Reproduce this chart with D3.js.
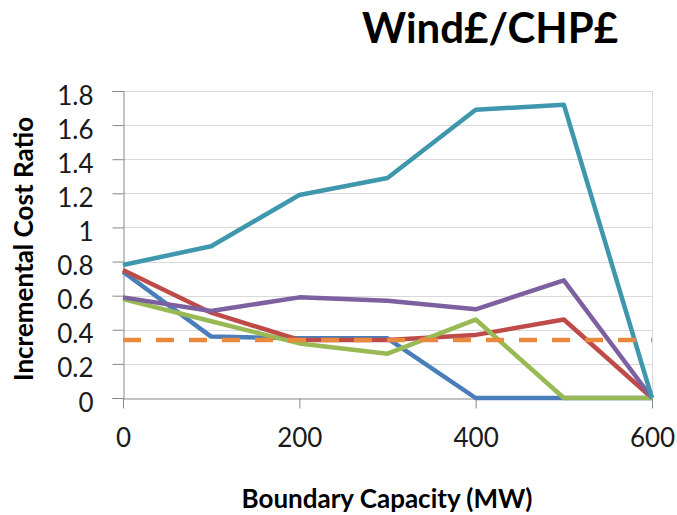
<!DOCTYPE html>
<html>
<head>
<meta charset="utf-8">
<script src="https://cdn.jsdelivr.net/npm/d3@7"></script>
<style>
  body { margin: 0; background: #fff; }
  text { font-family: Lato, "Open Sans", sans-serif; fill: #000; }
</style>
</head>
<body>
<svg id="chart" width="677" height="515"></svg>
<script>
const capacities = [0, 100, 200, 300, 400, 500, 600];

const blueSeries = [0.74, 0.36, 0.35, 0.35, 0, 0, 0];
const redSeries = [0.75, 0.50, 0.34, 0.34, 0.37, 0.46, 0];
const greenSeries = [0.58, 0.45, 0.32, 0.26, 0.46, 0, 0];
const purpleSeries = [0.59, 0.51, 0.59, 0.57, 0.52, 0.69, 0];
const tealSeries = [0.78, 0.89, 1.19, 1.29, 1.69, 1.72, 0];
const thresholdSeries = [0.34, 0.34, 0.34, 0.34, 0.34, 0.34, 0.34];

const xTicks = [0, 200, 400, 600];
const yTicks = [0, 0.2, 0.4, 0.6, 0.8, 1, 1.2, 1.4, 1.6, 1.8];

const series = [
  { values: blueSeries, color: "#4a7ebb" },
  { values: redSeries, color: "#be4b48" },
  { values: greenSeries, color: "#98b954" },
  { values: purpleSeries, color: "#7d60a0" },
  { values: tealSeries, color: "#3f97ae" },
  { values: thresholdSeries, color: "#e8893e", dash: "18,15" }
];

const margin = { top: 91, right: 25, bottom: 117, left: 123 };
const width = 677, height = 515;

const svg = d3.select("#chart");

const xScale = d3.scaleLinear()
  .domain([0, 600])
  .range([margin.left, width - margin.right]);

const yScale = d3.scaleLinear()
  .domain([0, 1.8])
  .range([height - margin.bottom, margin.top]);

// gridlines
svg.append("g")
  .selectAll("line")
  .data(yTicks.filter((d) => d > 0))
  .enter()
  .append("line")
  .attr("x1", xScale(0))
  .attr("x2", xScale(600))
  .attr("y1", (d) => Math.round(yScale(d)) + 0.5)
  .attr("y2", (d) => Math.round(yScale(d)) + 0.5)
  .attr("stroke", "#d9d9d9");

svg.append("line")
  .attr("x1", Math.round(xScale(600)) + 0.5)
  .attr("x2", Math.round(xScale(600)) + 0.5)
  .attr("y1", yScale(1.8))
  .attr("y2", yScale(0))
  .attr("stroke", "#d9d9d9");

// axes
const yAxis = d3.axisLeft(yScale)
  .tickValues(yTicks)
  .tickSize(11)
  .tickPadding(19)
  .tickFormat((d) => d3.format("")(+d.toFixed(1)));

const yAxisG = svg.append("g")
  .attr("transform", `translate(${Math.round(xScale(0)) + 0.5},0)`)
  .call(yAxis);

yAxisG.select(".domain").attr("stroke", "#868686");
yAxisG.selectAll(".tick line").attr("stroke", "#868686");
yAxisG.selectAll(".tick text")
  .attr("dy", "0.5em")
  .style("font-size", "26px")
  .style("fill", "#1a1a1a");

const xAxis = d3.axisBottom(xScale)
  .tickValues(xTicks)
  .tickSize(10)
  .tickPadding(20)
  .tickSizeOuter(0);

const xAxisG = svg.append("g")
  .attr("transform", `translate(0,${Math.round(yScale(0)) + 0.5})`)
  .call(xAxis);

xAxisG.select(".domain").attr("stroke", "#868686");
xAxisG.selectAll(".tick line").attr("stroke", "#868686");
xAxisG.selectAll(".tick text")
  .attr("dy", "0.71em")
  .style("font-size", "26px")
  .style("fill", "#1a1a1a");

// lines
const line = d3.line()
  .x((d, i) => xScale(capacities[i]))
  .y((d) => yScale(d));

svg.append("g")
  .selectAll("path")
  .data(series)
  .enter()
  .append("path")
  .attr("d", (s) => line(s.values))
  .attr("fill", "none")
  .attr("stroke", (s) => s.color)
  .attr("stroke-width", 4.5)
  .attr("stroke-linejoin", "round")
  .attr("stroke-dasharray", (s) => s.dash || null);

// titles
svg.append("text")
  .text("Wind£/CHP£")
  .attr("x", 490)
  .attr("y", 43)
  .attr("text-anchor", "middle")
  .style("font-size", "42px")
  .style("font-weight", "bold");

svg.append("text")
  .text("Incremental Cost Ratio")
  .attr("transform", "translate(33,249) rotate(-90)")
  .attr("text-anchor", "middle")
  .style("font-size", "26px")
  .style("font-weight", "bold");

svg.append("text")
  .text("Boundary Capacity (MW)")
  .attr("x", 387)
  .attr("y", 508)
  .attr("text-anchor", "middle")
  .style("font-size", "26px")
  .style("font-weight", "bold");
</script>
</body>
</html>
